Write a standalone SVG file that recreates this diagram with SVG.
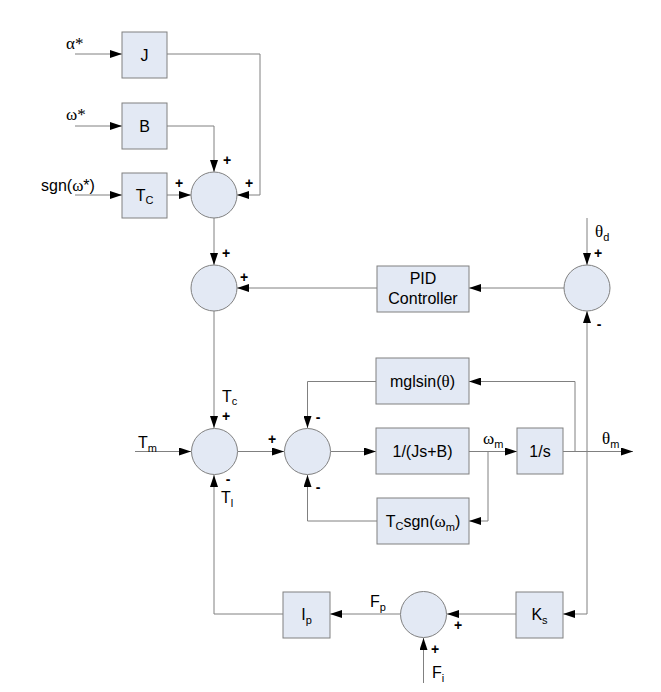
<svg xmlns="http://www.w3.org/2000/svg" width="661" height="692" viewBox="0 0 661 692">
<style>
.box{fill:#e3e9f4;stroke:#808080;stroke-width:1}
.sum{fill:#e3e9f4;stroke:#808080;stroke-width:1}
.ln{fill:none;stroke:#808080;stroke-width:1;marker-end:url(#ah)}
text{font-family:"Liberation Sans",Arial,sans-serif;font-size:16px;fill:#000}
.c{text-anchor:middle}
.g{font-family:"Liberation Serif","Times New Roman",serif;font-size:17px}
.s{font-size:11px}
.sg{font-size:14px;font-weight:bold;text-anchor:middle}
</style>
<defs>
<marker id="ah" markerUnits="userSpaceOnUse" markerWidth="12" markerHeight="8" refX="12" refY="4" orient="auto">
<path d="M0,0 L12,4 L0,8 z" fill="#000"/>
</marker>
</defs>
<g id="connectors">
<path class="ln" d="M75,54 H122"/>
<path class="ln" d="M75,126 H122"/>
<path class="ln" d="M75,195 H122"/>
<path class="ln" d="M167,54 H260 V195 H237"/>
<path class="ln" d="M167,126 H214 V172"/>
<path class="ln" d="M167,195 H191"/>
<path class="ln" d="M214,218 V265"/>
<path class="ln" d="M377,288 H237"/>
<path class="ln" d="M564,288 H469"/>
<path class="ln" d="M587,218 V265"/>
<path class="ln" d="M214,311 V428"/>
<path class="ln" d="M135,451.5 H191"/>
<path class="ln" d="M238,451.5 H284"/>
<path class="ln" d="M331,451.5 H376"/>
<path class="ln" d="M469,451.5 H517"/>
<path class="ln" d="M563,451.5 H633"/>
<path class="ln" d="M575,451.5 V381.5 H469"/>
<path class="ln" d="M376,381.5 H307.5 V428"/>
<path class="ln" d="M488,451.5 V521 H469"/>
<path class="ln" d="M377,521 H307.5 V475"/>
<path class="ln" d="M587,614 V311"/>
<path class="ln" d="M587,614 H563"/>
<path class="ln" d="M516,614 H447"/>
<path class="ln" d="M400,614 H330"/>
<path class="ln" d="M283,614 H214 V475"/>
<path class="ln" d="M423.5,683 V638"/>
</g>
<g id="labels">
<text x="66" y="49" class="g">α*</text>
<text x="66" y="120" class="g">ω*</text>
<text x="41" y="191">sgn(<tspan class="g">ω</tspan>*)</text>
<text x="138" y="448">T<tspan class="s" dy="4">m</tspan></text>
<text x="595" y="237"><tspan class="g">θ</tspan><tspan class="s" dy="4">d</tspan></text>
<text x="483" y="444"><tspan class="g">ω</tspan><tspan class="s" dy="4">m</tspan></text>
<text x="602" y="444"><tspan class="g">θ</tspan><tspan class="s" dy="4">m</tspan></text>
<text x="370" y="607">F<tspan class="s" dy="4">p</tspan></text>
<text x="432" y="678">F<tspan class="s" dy="4">i</tspan></text>
<text x="221" y="503">T<tspan class="s" dy="4">l</tspan></text>
<text x="222" y="402">T<tspan class="s" dy="3">c</tspan></text>
</g>
<g id="J"><rect class="box" x="122" y="32" width="45" height="46"/><text class="c" x="144.5" y="61">J</text></g>
<g id="B"><rect class="box" x="122" y="103" width="45" height="46"/><text class="c" x="144.5" y="132">B</text></g>
<g id="Tc"><rect class="box" x="122" y="173" width="45" height="45"/><text class="c" x="144.5" y="201">T<tspan class="s" dy="3">C</tspan></text></g>
<g id="sum1"><circle class="sum" cx="214" cy="195" r="23"/><text class="sg" x="227" y="165">+</text><text class="sg" x="179" y="188">+</text><text class="sg" x="249" y="188">+</text></g>
<g id="sum2"><circle class="sum" cx="214" cy="288" r="23"/><text class="sg" x="226" y="258">+</text><text class="sg" x="244" y="282">+</text></g>
<g id="pid"><rect class="box" x="377" y="266" width="92" height="46"/><text class="c" x="423" y="284">PID</text><text class="c" x="423" y="304">Controller</text></g>
<g id="sum3"><circle class="sum" cx="587" cy="288" r="23"/><text class="sg" x="598" y="258">+</text><text class="sg" x="599" y="329">-</text></g>
<g id="sum4"><circle class="sum" cx="214.5" cy="451.5" r="23"/><text class="sg" x="226" y="421">+</text><text class="sg" x="228" y="484">-</text></g>
<g id="sum5"><circle class="sum" cx="307.5" cy="451.5" r="23"/><text class="sg" x="272" y="444">+</text><text class="sg" x="318" y="422">-</text><text class="sg" x="318" y="492">-</text></g>
<g id="mgl"><rect class="box" x="376" y="358" width="93" height="46"/><text class="c" x="422.5" y="387">mglsin(<tspan class="g">θ</tspan>)</text></g>
<g id="plant"><rect class="box" x="376" y="428" width="93" height="46"/><text class="c" x="422.5" y="457">1/(Js+B)</text></g>
<g id="integ"><rect class="box" x="517" y="428" width="46" height="46"/><text class="c" x="540" y="457">1/s</text></g>
<g id="tcsgn"><rect class="box" x="377" y="498" width="92" height="46"/><text class="c" x="423" y="527">T<tspan class="s" dy="3">C</tspan><tspan dy="-3">sgn(</tspan><tspan class="g">ω</tspan><tspan class="s" dy="4">m</tspan><tspan dy="-4">)</tspan></text></g>
<g id="Ip"><rect class="box" x="283" y="592" width="47" height="46"/><text class="c" x="306.5" y="620">I<tspan class="s" dy="4">p</tspan></text></g>
<g id="sum6"><circle class="sum" cx="423.5" cy="614.5" r="23"/><text class="sg" x="458" y="630">+</text><text class="sg" x="435" y="654">+</text></g>
<g id="Ks"><rect class="box" x="516" y="592" width="47" height="46"/><text class="c" x="539.5" y="620">K<tspan class="s" dy="4">s</tspan></text></g>
</svg>
